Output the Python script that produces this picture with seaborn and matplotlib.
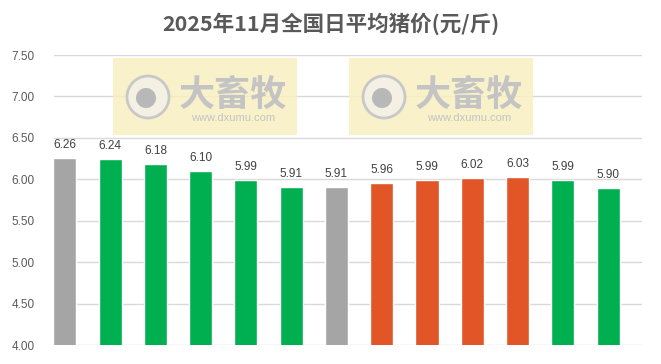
import matplotlib
matplotlib.use("Agg")
import matplotlib.pyplot as plt
import seaborn as sns
import pandas as pd
from matplotlib.patches import Rectangle, Circle

days = [str(i) for i in range(1, 14)]
prices = [6.26, 6.24, 6.18, 6.10, 5.99, 5.91, 5.91, 5.96, 5.99, 6.02, 6.03, 5.99, 5.90]
bar_colors = ["#A5A5A5", "#00B050", "#00B050", "#00B050", "#00B050", "#00B050", "#A5A5A5",
              "#E15527", "#E15527", "#E15527", "#E15527", "#00B050", "#00B050"]
yticks = [4.00, 4.50, 5.00, 5.50, 6.00, 6.50, 7.00, 7.50]
title = "2025年11月全国日平均猪价(元/斤)"

sns.set_theme(style="white")
plt.rcParams['font.family'] = ['Noto Sans CJK SC', 'DejaVu Sans']

df = pd.DataFrame({"day": days, "price": prices})
fig = plt.figure(figsize=(6.61, 3.64), dpi=100)
ax = fig.add_axes([54/661, 1-345/364, (642-54)/661, (345-55)/364])

sns.barplot(data=df, x="day", y="price", hue="day", palette=bar_colors,
            legend=False, width=0.51, ax=ax, saturation=1, zorder=3)

ax.set_ylim(4.0, 7.5)
ax.set_xlim(-0.24, 12.75)
ax.set_yticks(yticks)
ax.set_yticklabels([f"{v:.2f}" for v in yticks], fontsize=8.5, color="#595959",
                   family=['Liberation Sans', 'DejaVu Sans'])
ax.set_xticks([])
ax.set_xlabel("")
ax.set_ylabel("")
ax.tick_params(axis="y", length=0, pad=14)
for v in yticks:
    ax.axhline(v, color="#D9D9D9", lw=1, zorder=1)
for s in ax.spines.values():
    s.set_visible(False)

for i, v in enumerate(prices):
    ax.annotate(f"{v:.2f}", (i, v), xytext=(0, 5), textcoords="offset points",
                ha="center", va="bottom", fontsize=8.5, color="#404040",
                family=['Liberation Sans', 'DejaVu Sans'])

fig.text(0.5, 1-24/364, title, ha="center", va="center", fontsize=15.5,
         fontweight="bold", color="#595959")

# watermarks
for x0 in (113, 349):
    w, h = 184, 77
    y0 = 58
    fig.patches.append(Rectangle((x0/661, 1-(y0+h)/364), w/661, h/364,
                                 transform=fig.transFigure, facecolor="#F7EFC0",
                                 edgecolor="none", alpha=0.85, zorder=5))
    fig.patches.append(Circle((x0+35, 364-97), 21, transform=None,
                              facecolor="#F4F1E4", edgecolor="#C8C8C8", lw=2, zorder=6))
    fig.patches.append(Circle((x0+33, 364-98), 10, transform=None,
                              facecolor="#B8B8B8", edgecolor="none", zorder=7))
    fig.text((x0+120)/661, 1-95/364, "大畜牧", ha="center", va="center", fontsize=26,
             fontweight="bold", color="#C4C4C4", zorder=8)
    fig.text((x0+120)/661, 1-118/364, "www.dxumu.com", ha="center", va="center",
             fontsize=8, color="#C4C4C4", zorder=8,
             family=['Liberation Sans', 'DejaVu Sans'])

fig.savefig("out.png", dpi=100)
